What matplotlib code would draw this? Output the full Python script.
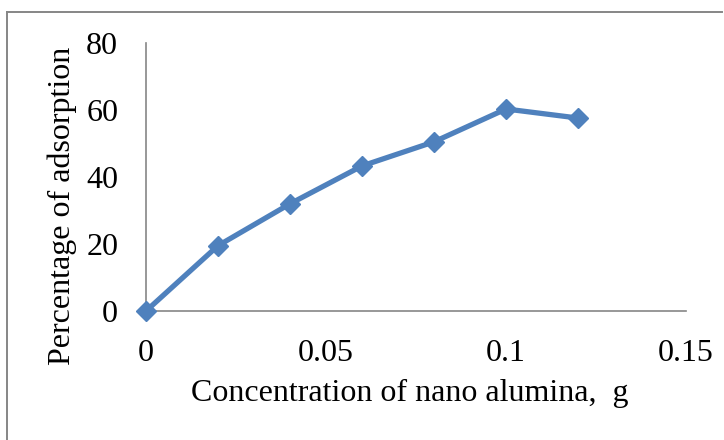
import numpy as np
import matplotlib
matplotlib.use('Agg')
from matplotlib import pyplot as plt
from matplotlib.lines import Line2D

conc = [0, 0.02, 0.04, 0.06, 0.08, 0.10, 0.12]
adsorption = [0, 19.5, 32, 43.3, 50.5, 60.3, 57.6]
xticks = [0, 0.05, 0.1, 0.15]
xtick_labels = ['0', '0.05', '0.1', '0.15']
yticks = [0, 20, 40, 60, 80]

plt.rcParams['font.family'] = 'Liberation Serif'

fig = plt.figure(figsize=(7.24, 4.40), dpi=100)
W, H = 724, 440
ax = fig.add_axes([146 / W, 1 - 311 / H, 540 / W, 268 / H])

ax.plot(conc, adsorption, color='#4F81BD', linewidth=3.8, marker='D',
        markersize=10, clip_on=False, zorder=3)

ax.set_xlim(0, 0.15)
ax.set_ylim(0, 80)
ax.set_xticks(xticks)
ax.set_xticklabels(xtick_labels)
ax.set_yticks(yticks)
ax.tick_params(axis='both', length=0, labelsize=23)
ax.tick_params(axis='x', pad=20)
ax.tick_params(axis='y', pad=20)

for s in ['top', 'right']:
    ax.spines[s].set_visible(False)
for s in ['left', 'bottom']:
    ax.spines[s].set_color('#868686')
    ax.spines[s].set_linewidth(1.2)

fig.text(410 / W, 1 - 393 / H, 'Concentration of nano alumina,  g',
         fontsize=23, ha='center', va='center')
fig.text(62 / W, 1 - 206 / H, 'Percentage of adsorption',
         fontsize=23, ha='center', va='center', rotation=90)

# chart-area frame (only top and left edges fall inside the picture)
fig.lines.append(Line2D([7 / W, 722 / W], [1 - 12 / H, 1 - 12 / H],
                        transform=fig.transFigure, color='#868686', linewidth=1.4))
fig.lines.append(Line2D([7 / W, 7 / W], [1 - 12 / H, 0],
                        transform=fig.transFigure, color='#868686', linewidth=1.4))

fig.savefig('out.png', dpi=100)
